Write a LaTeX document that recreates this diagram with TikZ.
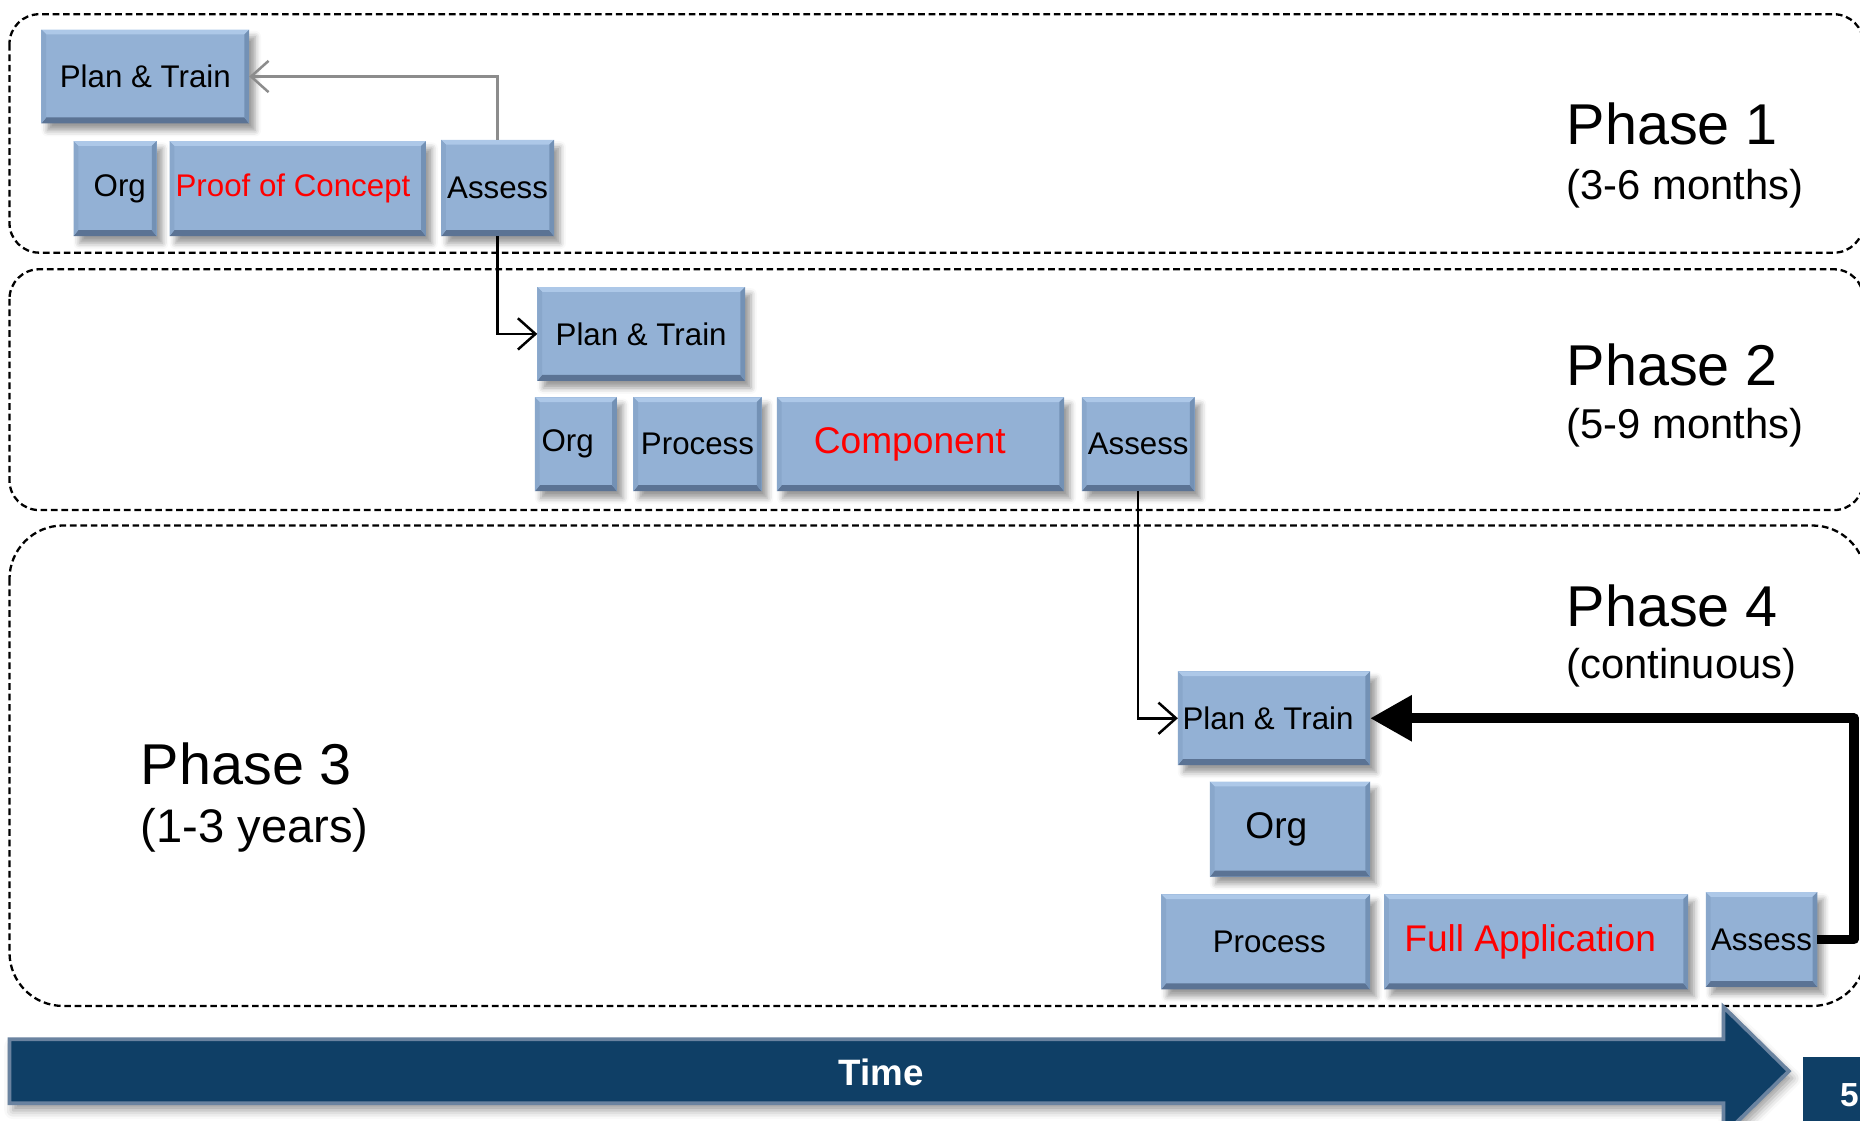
\documentclass[tikz,border=0pt]{standalone}
\usepackage{fontspec}
\setmainfont{Liberation Sans}
\usetikzlibrary{arrows.meta,shadows.blur}

\definecolor{boxfill}{HTML}{93B1D5}
\definecolor{bevtop}{HTML}{ADC8E8}
\definecolor{bevbot}{HTML}{5B7394}
\definecolor{bevleft}{HTML}{89A7CB}
\definecolor{bevright}{HTML}{7391B5}
\definecolor{navy}{HTML}{0F3F66}
\definecolor{arrowedge}{HTML}{6A83A0}
\definecolor{grayline}{HTML}{8C8C8C}

\def\bevw{0.04cm}
\def\bevb{0.05cm}

\tikzset{
  stagebox/.style={draw=none, fill=boxfill, inner sep=0pt, outer sep=0pt,
    font=\fontsize{7.5}{9}\selectfont,
    blur shadow={shadow xshift=0.05cm, shadow yshift=-0.06cm, shadow blur radius=0.05cm},
    path picture={
      \fill[bevtop] (path picture bounding box.north west) -- (path picture bounding box.north east)
        -- ([shift={(-\bevw,-\bevw)}]path picture bounding box.north east)
        -- ([shift={(\bevw,-\bevw)}]path picture bounding box.north west) -- cycle;
      \fill[bevbot] (path picture bounding box.south west) -- (path picture bounding box.south east)
        -- ([shift={(-\bevw,\bevb)}]path picture bounding box.south east)
        -- ([shift={(\bevw,\bevb)}]path picture bounding box.south west) -- cycle;
      \fill[bevleft] (path picture bounding box.north west) -- (path picture bounding box.south west)
        -- ([shift={(\bevw,\bevb)}]path picture bounding box.south west)
        -- ([shift={(\bevw,-\bevw)}]path picture bounding box.north west) -- cycle;
      \fill[bevright] (path picture bounding box.north east) -- (path picture bounding box.south east)
        -- ([shift={(-\bevw,\bevb)}]path picture bounding box.south east)
        -- ([shift={(-\bevw,-\bevw)}]path picture bounding box.north east) -- cycle;
    }},
  bigtext/.style={font=\fontsize{8.9}{10}\selectfont},
  redtext/.style={text=red},
  phaseframe/.style={draw=black, line width=0.55pt, dash pattern=on 1.6pt off 0.9pt},
  phasetitle/.style={anchor=base west, inner sep=0pt, font=\fontsize{13.8}{15}\selectfont},
  phasesub/.style={anchor=base west, inner sep=0pt, font=\fontsize{10}{12}\selectfont},
  thinarrow/.style={line width=0.6pt, -{Straight Barb[length=4.2pt,width=7.5pt]}},
}

\begin{document}
\begin{tikzpicture}[x=0.01cm, y=-0.01cm]
\useasboundingbox (0,0) rectangle (1568,945);
\clip (0,0) rectangle (1568,945);

% phase frames
\draw[phaseframe, rounded corners=0.25cm] (8,12) rectangle (1571,213);
\draw[phaseframe, rounded corners=0.25cm] (8,227) rectangle (1571,430);
\draw[phaseframe, rounded corners=0.45cm] (8,443) rectangle (1573,848);

% Phase 1 boxes
\node[stagebox, minimum width=1.75cm, minimum height=0.79cm] (pt1) at (122.5,64.5) {Plan \& Train};
\node[stagebox, minimum width=0.70cm, minimum height=0.80cm] (org1) at (97,159) {\kern0.08cm Org};
\node[stagebox, redtext, minimum width=2.16cm, minimum height=0.80cm] (poc) at (251,159) {Proof of Concept\kern0.08cm};
\node[stagebox, minimum width=0.95cm, minimum height=0.81cm] (as1) at (419.5,158.5) {Assess};

% Phase 2 boxes
\node[stagebox, minimum width=1.75cm, minimum height=0.79cm] (pt2) at (540.5,281.5) {Plan \& Train};
\node[stagebox, minimum width=0.69cm, minimum height=0.79cm] (org2) at (485.5,374.5) {Org\kern0.14cm};
\node[stagebox, minimum width=1.08cm, minimum height=0.79cm] (pr2) at (588,374.5) {Process};
\node[stagebox, bigtext, redtext, minimum width=2.42cm, minimum height=0.79cm] (comp) at (776,374.5) {Component\kern0.18cm};
\node[stagebox, minimum width=0.95cm, minimum height=0.79cm] (as2) at (959.5,374.5) {Assess};

% Phase 3 boxes
\node[stagebox, minimum width=1.62cm, minimum height=0.79cm] (pt3) at (1074,605.5) {Plan \& Train\kern0.1cm};
\node[stagebox, bigtext, minimum width=1.35cm, minimum height=0.80cm] (org3) at (1087.5,699) {Org\kern0.23cm};
\node[stagebox, minimum width=1.76cm, minimum height=0.80cm] (pr3) at (1067,794) {\kern0.06cm Process};
\node[stagebox, bigtext, redtext, minimum width=2.56cm, minimum height=0.80cm] (full) at (1295,794) {Full Application\kern0.1cm};
\node[stagebox, minimum width=0.94cm, minimum height=0.80cm] (as3) at (1485,792) {Assess};

% connectors
\draw[grayline, thinarrow] (as1.north) |- (pt1.east);
\draw[black, thinarrow] (as1.south) |- (pt2.west);
\draw[black, thinarrow] (as2.south) |- (pt3.west);
\coordinate (loopc) at (1563,700);
\draw[black, line width=2.3pt, line join=round, -{Triangle[length=10pt,width=10.5pt]}] (as3.east) -| (loopc) |- (pt3.east);

% phase labels
\node[phasetitle] (ph1) at (1320,122) {Phase 1};
\node[phasesub] (ph1s) at (1320,168) {(3-6 months)};
\node[phasetitle] (ph2) at (1320,325) {Phase 2};
\node[phasesub] (ph2s) at (1320,370) {(5-9 months)};
\node[phasetitle] (ph4) at (1320,528) {Phase 4};
\node[phasesub] (ph4s) at (1320,572) {(continuous)};
\node[phasetitle] (ph3) at (118,661) {Phase 3};
\node[phasesub, font=\fontsize{11.3}{13}\selectfont] (ph3s) at (118,710) {(1-3 years)};

% time arrow
\draw[fill=navy, draw=arrowedge, line width=0.9pt, blur shadow={shadow xshift=0.03cm, shadow yshift=-0.06cm}]
  (8,876) -- (1453,876) -- (1453,849) -- (1508,903) -- (1453,957) -- (1453,930) -- (8,930) -- cycle;
\node[text=white, font=\bfseries\fontsize{8.8}{10}\selectfont] (time) at (743,904) {Time};

% page number
\fill[navy] (1520,891) rectangle (1580,950);
\node[text=white, font=\bfseries\fontsize{8}{9}\selectfont] (pg) at (1559,923) {5};
\end{tikzpicture}
\end{document}
